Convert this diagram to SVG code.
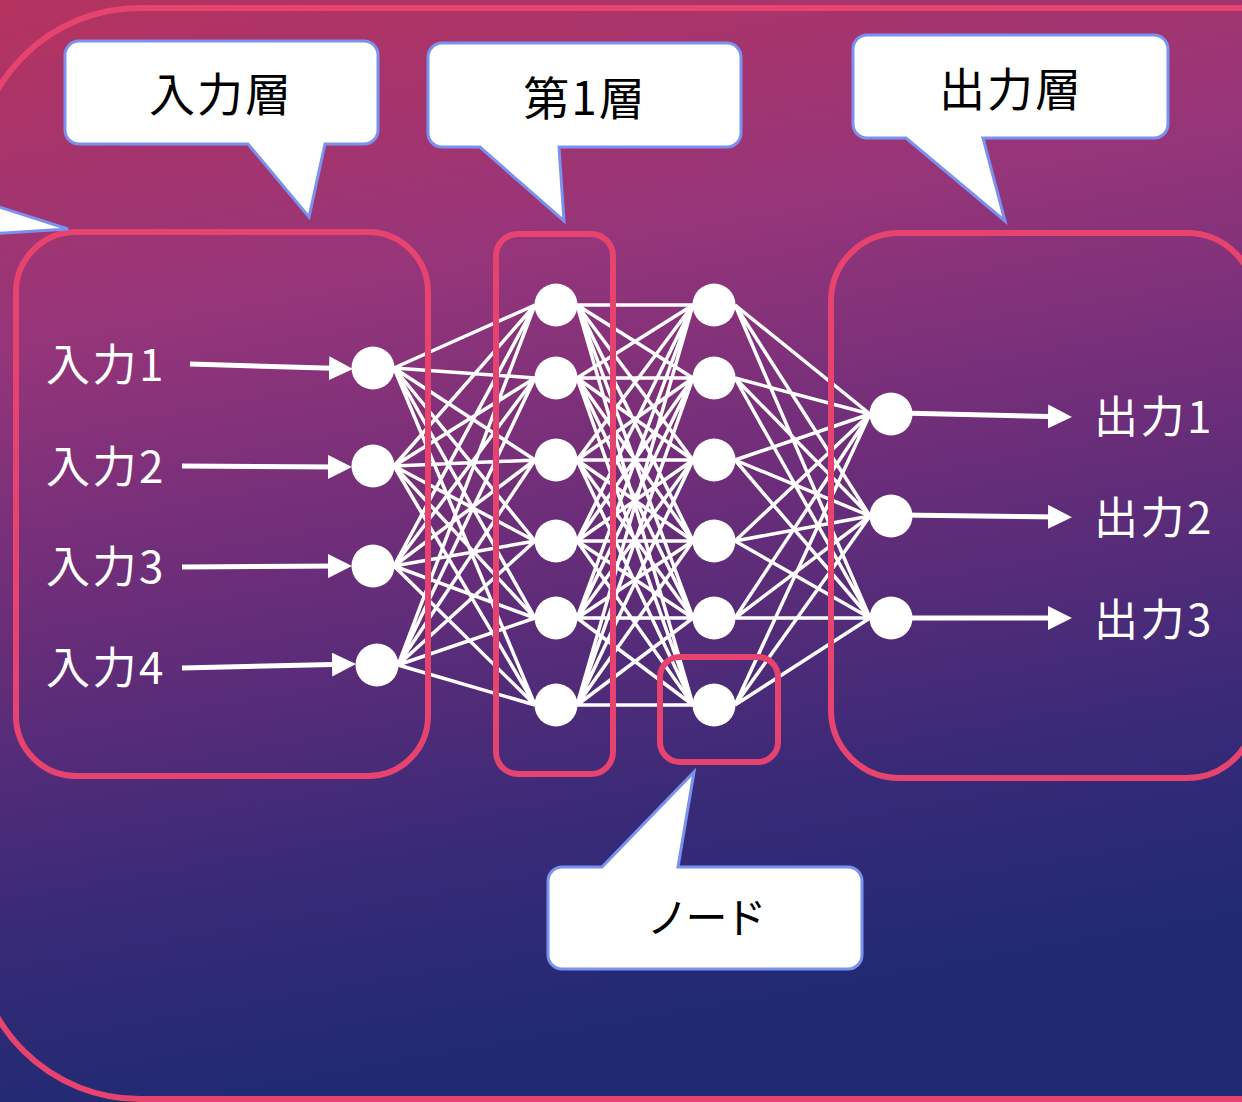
<svg xmlns="http://www.w3.org/2000/svg" width="1242" height="1102" viewBox="0 0 1242 1102">
<defs>
<linearGradient id="bg" x1="0" y1="0" x2="0.2" y2="1">
<stop offset="0" stop-color="#b5335f"/>
<stop offset="0.3" stop-color="#96357a"/>
<stop offset="0.55" stop-color="#6a2d79"/>
<stop offset="0.8" stop-color="#3a2a78"/>
<stop offset="1" stop-color="#1f2a72"/>
</linearGradient>
<marker id="arrow" viewBox="0 0 24 24" refX="12" refY="12" markerWidth="24" markerHeight="24" markerUnits="userSpaceOnUse" orient="auto">
<path d="M0,0 L24,12 L0,24 Z" fill="#ffffff"/>
</marker>
<style>
.frame{fill:none;stroke:#e6436f;stroke-width:6}
.callout{fill:#ffffff;stroke:#7b91ef;stroke-width:3;stroke-linejoin:miter}
.ctext{font-family:"Noto Sans CJK JP","Noto Sans CJK SC",sans-serif;font-size:46px;letter-spacing:2px;fill:#000000;text-anchor:middle}
.label{font-family:"Noto Sans CJK JP","Noto Sans CJK SC",sans-serif;font-size:44px;letter-spacing:2.5px;fill:#ffffff}
.node{fill:#ffffff}
.arr{stroke:#ffffff;stroke-width:5;fill:none;marker-end:url(#arrow)}
</style>
</defs>
<rect x="0" y="0" width="1242" height="1102" fill="url(#bg)"/>
<rect class="frame" x="-25" y="8" width="1600" height="1091" rx="165" ry="165" stroke-width="5"/>

<g id="connectors" stroke="#ffffff" stroke-width="3.5" fill="none">
<path d="M394,368 L535,305 M394,368 L535,378 M394,368 L535,460 M394,368 L535,541 M394,368 L535,618 M394,368 L535,705
M394,466 L535,305 M394,466 L535,378 M394,466 L535,460 M394,466 L535,541 M394,466 L535,618 M394,466 L535,705
M394,566 L535,305 M394,566 L535,378 M394,566 L535,460 M394,566 L535,541 M394,566 L535,618 M394,566 L535,705
M398,665 L535,305 M398,665 L535,378 M398,665 L535,460 M398,665 L535,541 M398,665 L535,618 M398,665 L535,705"/>
<path d="M577,305 L693,305 M577,305 L693,378 M577,305 L693,460 M577,305 L693,541 M577,305 L693,618 M577,305 L693,705
M577,378 L693,305 M577,378 L693,378 M577,378 L693,460 M577,378 L693,541 M577,378 L693,618 M577,378 L693,705
M577,460 L693,305 M577,460 L693,378 M577,460 L693,460 M577,460 L693,541 M577,460 L693,618 M577,460 L693,705
M577,541 L693,305 M577,541 L693,378 M577,541 L693,460 M577,541 L693,541 M577,541 L693,618 M577,541 L693,705
M577,618 L693,305 M577,618 L693,378 M577,618 L693,460 M577,618 L693,541 M577,618 L693,618 M577,618 L693,705
M577,705 L693,305 M577,705 L693,378 M577,705 L693,460 M577,705 L693,541 M577,705 L693,618 M577,705 L693,705"/>
<path d="M735,305 L870,414 M735,305 L870,516 M735,305 L870,618
M735,378 L870,414 M735,378 L870,516 M735,378 L870,618
M735,460 L870,414 M735,460 L870,516 M735,460 L870,618
M735,541 L870,414 M735,541 L870,516 M735,541 L870,618
M735,618 L870,414 M735,618 L870,516 M735,618 L870,618
M735,705 L870,414 M735,705 L870,516 M735,705 L870,618"/>
<path class="arr" d="M190,364 L341,368.6"/>
<path class="arr" d="M182,466 L340,467"/>
<path class="arr" d="M182,567 L340,566"/>
<path class="arr" d="M182,668 L344,664.3"/>
<path class="arr" d="M900,413 L1060,416.7"/>
<path class="arr" d="M900,515 L1060,517"/>
<path class="arr" d="M900,618 L1060,618"/>
</g>

<g id="input-layer-box"><rect class="frame" x="16" y="232" width="412" height="544" rx="60" ry="60"/></g>
<g id="layer1-box"><rect class="frame" x="496" y="234" width="117" height="540" rx="22" ry="22"/></g>
<g id="node-box"><rect class="frame" x="660" y="657" width="118" height="105" rx="20" ry="20"/></g>
<g id="output-layer-box"><rect class="frame" x="831" y="233" width="424" height="545" rx="68" ry="68"/></g>

<g id="input-nodes">
<circle class="node" cx="373" cy="368" r="21.5"/>
<circle class="node" cx="373" cy="466" r="21.5"/>
<circle class="node" cx="373" cy="566" r="21.5"/>
<circle class="node" cx="377" cy="665" r="21.5"/>
</g>
<g id="layer1-nodes">
<circle class="node" cx="556" cy="305" r="21.5"/>
<circle class="node" cx="556" cy="378" r="21.5"/>
<circle class="node" cx="556" cy="460" r="21.5"/>
<circle class="node" cx="556" cy="541" r="21.5"/>
<circle class="node" cx="556" cy="618" r="21.5"/>
<circle class="node" cx="556" cy="705" r="21.5"/>
</g>
<g id="layer2-nodes">
<circle class="node" cx="714" cy="305" r="21.5"/>
<circle class="node" cx="714" cy="378" r="21.5"/>
<circle class="node" cx="714" cy="460" r="21.5"/>
<circle class="node" cx="714" cy="541" r="21.5"/>
<circle class="node" cx="714" cy="618" r="21.5"/>
<circle class="node" cx="714" cy="705" r="21.5"/>
</g>
<g id="output-nodes">
<circle class="node" cx="891" cy="414" r="21.5"/>
<circle class="node" cx="891" cy="516" r="21.5"/>
<circle class="node" cx="891" cy="618" r="21.5"/>
</g>

<g id="input-labels">
<text class="label" x="46" y="381">入力1</text>
<text class="label" x="46" y="483">入力2</text>
<text class="label" x="46" y="583">入力3</text>
<text class="label" x="46" y="684">入力4</text>
</g>
<g id="output-labels">
<text class="label" x="1094" y="433">出力1</text>
<text class="label" x="1094" y="534">出力2</text>
<text class="label" x="1094" y="636">出力3</text>
</g>

<g id="callout-left">
<polygon class="callout" points="-10,204 68,229 -10,234"/>
</g>
<g id="callout-input">
<path class="callout" d="M79,41 H364 A14,14 0 0 1 378,55 V130 A14,14 0 0 1 364,144 H325 L309,217 L248,144 H79 A14,14 0 0 1 65,130 V55 A14,14 0 0 1 79,41 Z"/>
<text class="ctext" x="221" y="111">入力層</text>
</g>
<g id="callout-layer1">
<path class="callout" d="M442,43 H727 A14,14 0 0 1 741,57 V133 A14,14 0 0 1 727,147 H559 L564,221 L480,147 H442 A14,14 0 0 1 428,133 V57 A14,14 0 0 1 442,43 Z"/>
<text class="ctext" x="585" y="115">第1層</text>
</g>
<g id="callout-output">
<path class="callout" d="M867,35 H1154 A14,14 0 0 1 1168,49 V124 A14,14 0 0 1 1154,138 H983 L1005,221 L906,138 H867 A14,14 0 0 1 853,124 V49 A14,14 0 0 1 867,35 Z"/>
<text class="ctext" x="1011" y="106">出力層</text>
</g>
<g id="callout-node">
<path class="callout" d="M562,867 H602 L694,772 L678,867 H848 A14,14 0 0 1 862,881 V955 A14,14 0 0 1 848,969 H562 A14,14 0 0 1 548,955 V881 A14,14 0 0 1 562,867 Z"/>
<text class="ctext" x="705" y="933" style="font-size:42px;letter-spacing:-3px">ノード</text>
</g>
</svg>
